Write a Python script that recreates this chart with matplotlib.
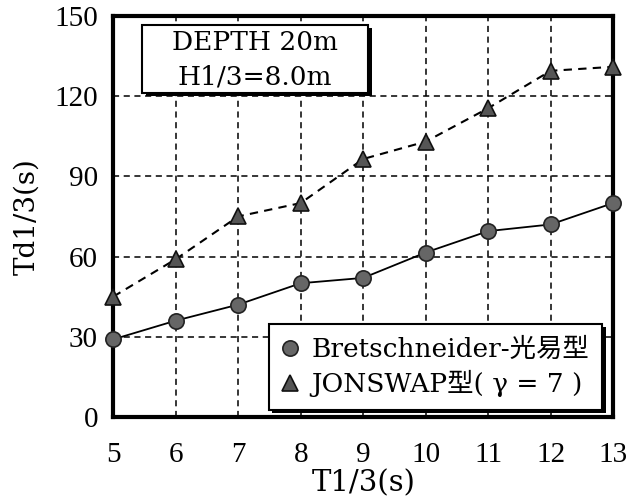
import matplotlib
matplotlib.use('Agg')
import matplotlib.pyplot as plt
import matplotlib.patheffects as pe
from matplotlib.lines import Line2D
from matplotlib.patches import Rectangle

# data
t13 = [5, 6, 7, 8, 9, 10, 11, 12, 13]
td_bret = [29, 36, 42, 50, 52, 61.5, 69.5, 72, 80]
td_jonswap = [45, 59, 75, 80, 96.5, 103, 115.5, 129.5, 131]
xticks = [5, 6, 7, 8, 9, 10, 11, 12, 13]
yticks = [0, 30, 60, 90, 120, 150]
label_bret = 'Bretschneider-光易型'
label_jon = 'JONSWAP型( γ = 7 )'
box_lines = ['DEPTH 20m', 'H1/3=8.0m']

serif = ['Liberation Serif', 'Noto Sans CJK JP', 'DejaVu Sans']
wide = ['DejaVu Serif', 'Noto Sans CJK JP', 'DejaVu Sans']
plt.rcParams['font.family'] = serif

shadow = [pe.SimplePatchShadow(offset=(2.5, -2.5), shadow_rgbFace='black', alpha=1), pe.Normal()]

fig = plt.figure(figsize=(6.4, 5.01), dpi=100)
ax = fig.add_axes([0.177, 0.168, 0.781, 0.800])

ax.plot(t13, td_bret, color='black', lw=1.3, ls='-', marker='o', ms=11,
        markerfacecolor='#666666', markeredgecolor='#222222', mew=1.2, zorder=5, clip_on=False)
ax.plot(t13, td_jonswap, color='black', lw=1.5, ls=(0, (4, 3)), marker='^', ms=12,
        markerfacecolor='#555555', markeredgecolor='#111111', mew=1.2, zorder=5, clip_on=False)

ax.set_xlim(5, 13)
ax.set_ylim(0, 150)
ax.set_xticks(xticks)
ax.set_yticks(yticks)
ax.tick_params(length=0, labelsize=21)
ax.tick_params(axis='x', pad=18)
ax.tick_params(axis='y', pad=11)
ax.grid(True, color='black', ls=(0, (4, 3)), lw=1.1)
for s in ax.spines.values():
    s.set_linewidth(3)

ax.set_xlabel('T1/3(s)', fontsize=21, family=wide, labelpad=1)
ax.set_ylabel('Td1/3(s)', fontsize=20, family=wide, labelpad=10)

# condition box
rect = Rectangle((0.058, 0.808), 0.452, 0.170, transform=ax.transAxes,
                 facecolor='white', edgecolor='black', lw=1.5, zorder=10)
rect.set_path_effects(shadow)
ax.add_patch(rect)
ax.text(0.284, 0.933, box_lines[0], transform=ax.transAxes, fontsize=19,
        family=wide, ha='center', va='center', zorder=11)
ax.text(0.284, 0.848, box_lines[1], transform=ax.transAxes, fontsize=19,
        family=wide, ha='center', va='center', zorder=11)

h1 = Line2D([], [], ls='none', marker='o', ms=11, markerfacecolor='#666666',
            markeredgecolor='#222222', mew=1.2)
h2 = Line2D([], [], ls='none', marker='^', ms=12, markerfacecolor='#555555',
            markeredgecolor='#111111', mew=1.2)
leg = ax.legend([h1, h2], [label_bret, label_jon], loc='lower right',
                bbox_to_anchor=(0.978, 0.017), prop={'family': wide, 'size': 19},
                fancybox=False, shadow=False, framealpha=1, edgecolor='black',
                handlelength=0.6, handletextpad=0.5, borderpad=0.5,
                labelspacing=0.3, borderaxespad=0)
leg.get_frame().set_linewidth(1.5)
leg.get_frame().set_path_effects(shadow)
leg.set_zorder(20)

fig.savefig('out.png', dpi=100)
